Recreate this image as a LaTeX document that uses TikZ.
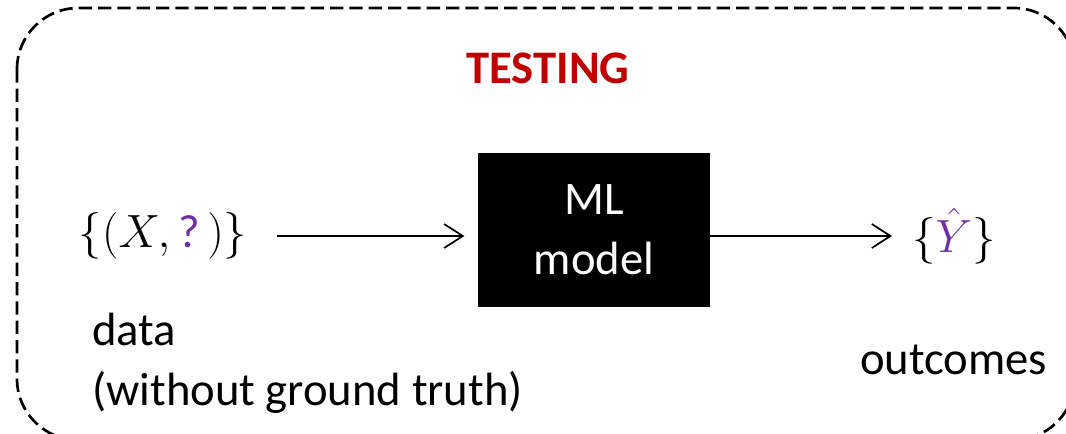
\RequirePackage{fix-cm}
\documentclass[tikz,border=0pt]{standalone}
\usepackage{fontspec}
\setmainfont{Carlito}
\usetikzlibrary{arrows.meta}
\definecolor{testred}{HTML}{C00000}
\definecolor{hatpurple}{HTML}{7030A0}

\begin{document}
\begin{tikzpicture}[x=0.75pt,y=-0.75pt,
        every node/.style={font=\fontsize{35}{45}\selectfont,inner sep=0pt},
        flow/.style={-{Straight Barb[length=14pt,width=18pt]},line width=1.3pt},
        frame/.style={dash pattern=on 10pt off 4.5pt,line width=2pt,rounded corners=46pt}]
        \useasboundingbox (0,0) rectangle (1066,433);
        \draw [frame] (17,8) rectangle (1075,440);
        \node [text=testred,font=\fontsize{35}{45}\selectfont\bfseries] (title) at (548,68) {TESTING};
        \node [fill=black,text=white,align=center,minimum width=174pt,minimum height=115.5pt] (model) at (594,230) {ML\\model};
        \node (input) at (163,236) {$\{(X,\textcolor{hatpurple}{\mbox{?}}\,)\}$};
        \node (output) at (954,236) {$\{\textcolor{hatpurple}{\hat{Y}}\}$};
        \node [align=left,anchor=north west] (data) at (92,313) {data\\(without ground truth)};
        \node [anchor=base west] (result) at (860,374) {outcomes};
        \draw [flow,shorten <=22pt,shorten >=10pt] (input.east) -- (input.east -| model.west);
        \draw [flow,shorten >=15pt] (model.east |- output.west) -- (output.west);
\end{tikzpicture}
\end{document}
